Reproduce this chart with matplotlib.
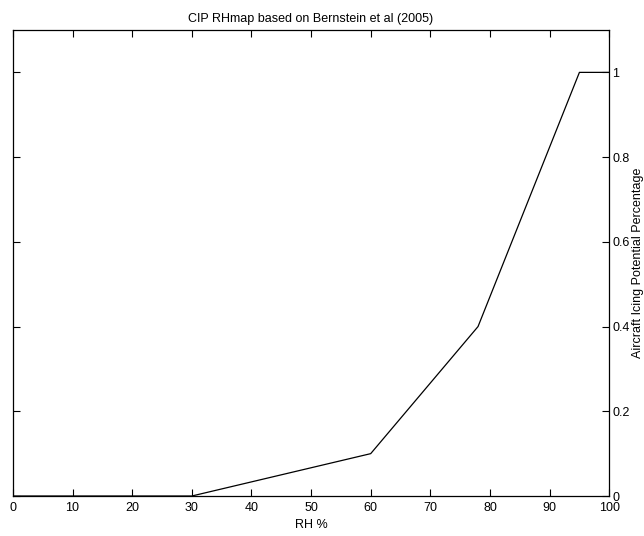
import matplotlib
matplotlib.use("Agg")
import matplotlib.pyplot as plt

plt.rcParams['font.family'] = ['Liberation Sans', 'DejaVu Sans']

rh_pct = [0, 30, 60, 78, 95, 100]
icing_pot = [0.0, 0.0, 0.1, 0.4, 1.0, 1.0]
x_ticks = list(range(0, 101, 10))
y_ticks = [0, 0.2, 0.4, 0.6, 0.8, 1]
y_labels = ['0', '0.2', '0.4', '0.6', '0.8', '1']

fig = plt.figure(figsize=(6.44, 5.36), dpi=100)
ax = fig.add_axes([0.020, 0.0746, 0.926, 0.8694])

ax.plot(rh_pct, icing_pot, color='black', linewidth=0.9)
ax.set_xlim(0, 100)
ax.set_ylim(0, 1.1)
ax.set_xticks(x_ticks)
ax.set_yticks(y_ticks)
ax.set_yticklabels(y_labels)

ax.yaxis.tick_right()
ax.yaxis.set_label_position('right')
ax.tick_params(direction='in', top=True, bottom=True, left=True, right=True,
               labelleft=False, labelright=True, length=5, width=0.8,
               labelsize=9)
ax.tick_params(axis='x', pad=4)
ax.tick_params(axis='y', pad=2)
for s in ax.spines.values():
    s.set_linewidth(0.9)

ax.set_xlabel('RH %', fontsize=9, labelpad=4)
ax.set_ylabel('Aircraft Icing Potential Percentage', fontsize=9, labelpad=2)
ax.set_title('CIP RHmap based on Bernstein et al (2005)', fontsize=9, pad=6)

fig.savefig('out.png', dpi=100)
